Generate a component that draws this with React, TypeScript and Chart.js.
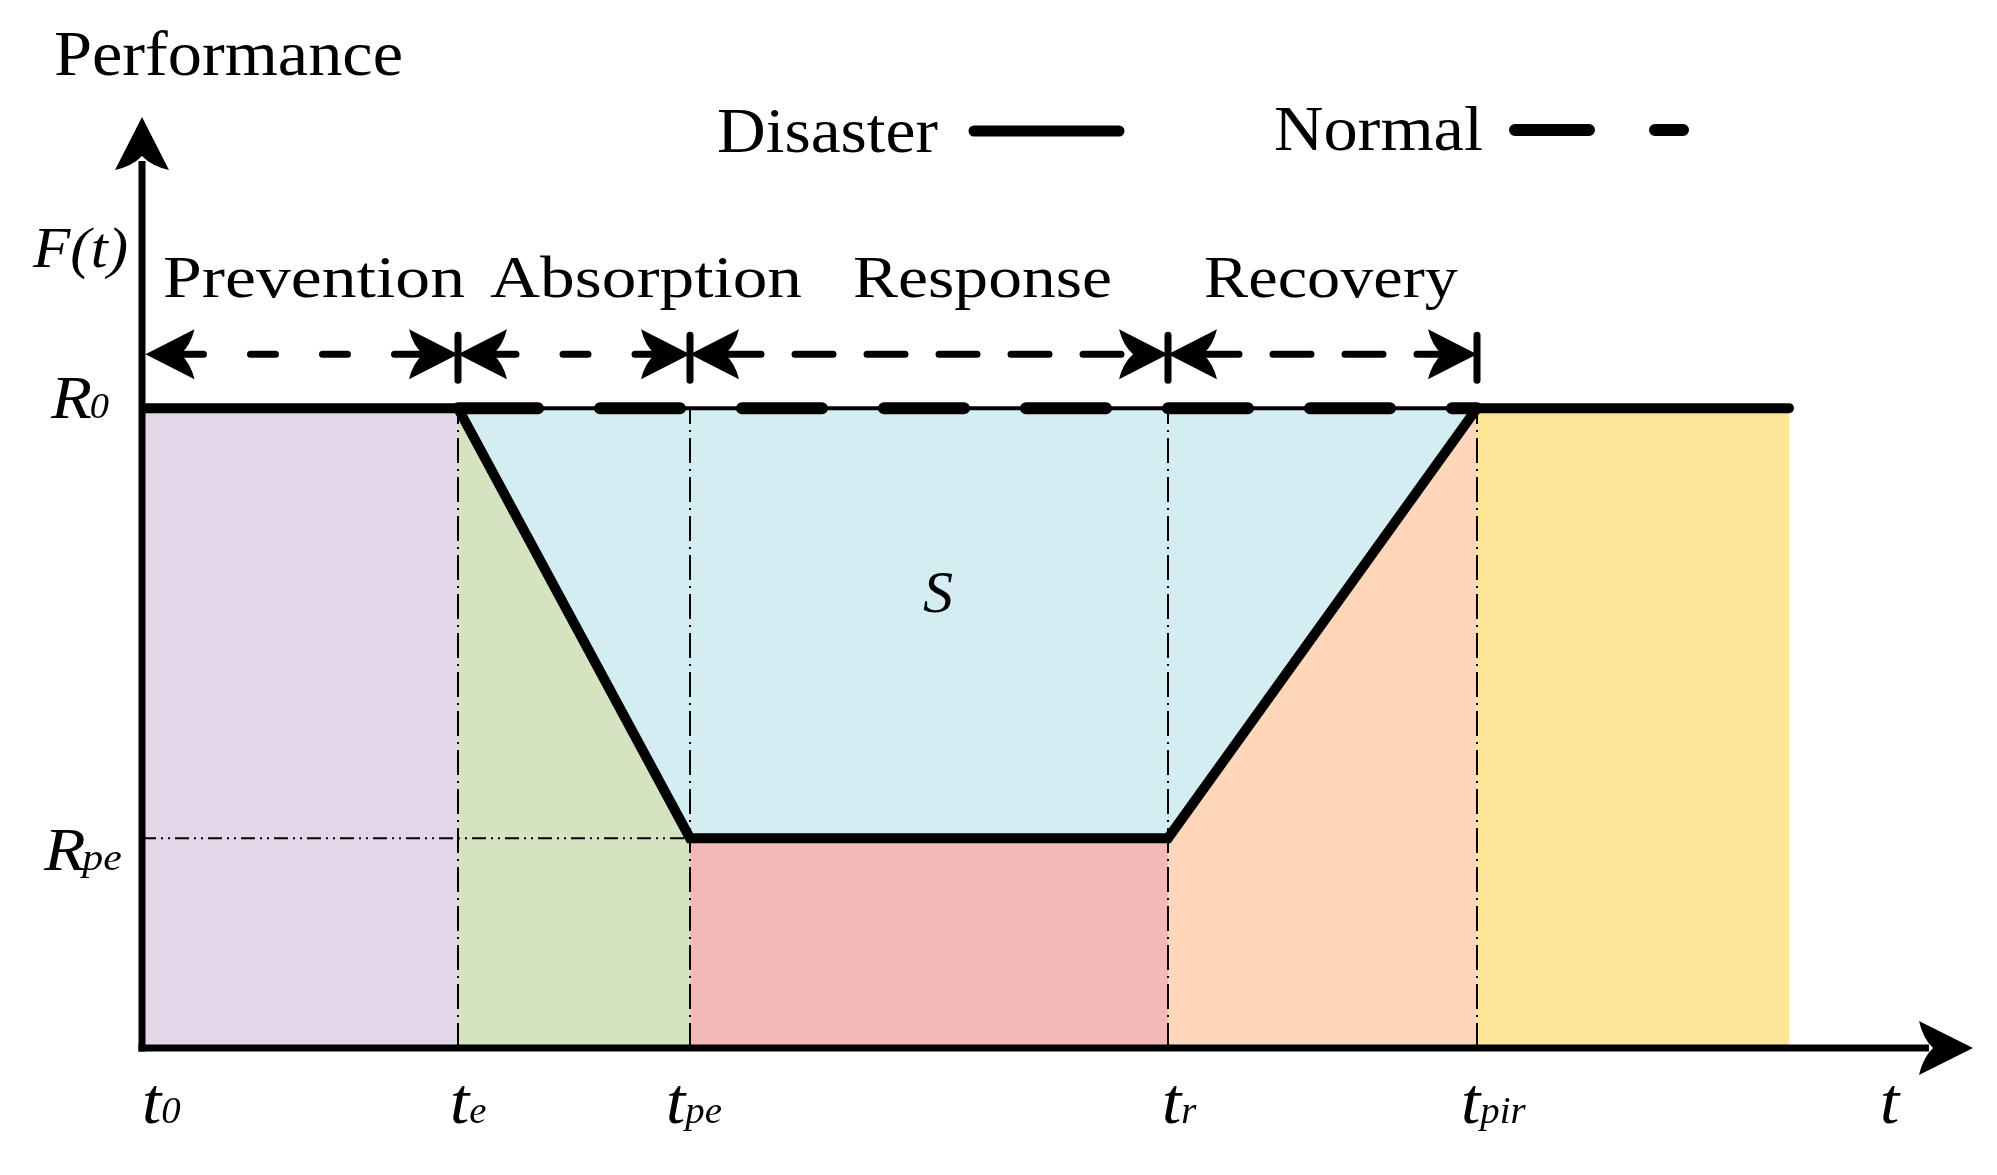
import { useEffect, useRef } from "react";
import { Chart, registerables } from "chart.js";

Chart.register(...registerables);

// ---- data ----
const timeKeys = ["t0", "te", "tpe", "tr", "tpir"];
const timeSubs = ["0", "e", "pe", "r", "pir"];
const timeValues = [0, 3.16, 5.48, 10.26, 13.35]; // t0, te, tpe, tr, tpir
const timeEnd = 16.47;
const timeAxisMax = 18.31;
const perfLevels = [1.0, 0.328]; // R0, Rpe
const perfAxisMax = 1.455;
const phaseNames = ["Prevention", "Absorption", "Response", "Recovery"];
const legendLabels = ["Disaster", "Normal"];
const regionColors = ["#E2D6E8", "#D5E3C0", "#F3B9B7", "#FED7BA", "#FEE597"];
const surfaceColor = "#D4EDF3";

const SERIF = '"Liberation Serif", "Times New Roman", serif';

type Pt = { x: number; y: number };

function fitText(ctx: CanvasRenderingContext2D, text: string, font: string, left: number, right: number, baseline: number) {
  ctx.save();
  ctx.font = font;
  const w = ctx.measureText(text).width;
  ctx.translate(left, baseline);
  ctx.scale((right - left) / w, 1);
  ctx.textAlign = "left";
  ctx.textBaseline = "alphabetic";
  ctx.fillText(text, 0, 0);
  ctx.restore();
}

function subLabel(
  ctx: CanvasRenderingContext2D,
  main: string,
  sub: string,
  left: number,
  baseline: number,
  mainFont: string,
  subFont: string,
  gap: number,
  sx: number
) {
  ctx.save();
  ctx.textAlign = "left";
  ctx.textBaseline = "alphabetic";
  ctx.translate(left, baseline);
  ctx.scale(sx, 1);
  ctx.font = mainFont;
  ctx.fillText(main, 0, 0);
  const w = ctx.measureText(main).width;
  if (sub) {
    ctx.font = subFont;
    ctx.fillText(sub, w + gap, 0);
  }
  ctx.restore();
}

function arrowHead(ctx: CanvasRenderingContext2D, tx: number, ty: number, dx: number, dy: number, L: number, H: number) {
  const px = -dy, py = dx;
  const c1x = tx - L * dx + H * px, c1y = ty - L * dy + H * py;
  const c2x = tx - L * dx - H * px, c2y = ty - L * dy - H * py;
  const bx = tx - (L - 14) * dx, by = ty - (L - 14) * dy;
  const k1x = tx - (L - 4) * dx + 0.35 * H * px, k1y = ty - (L - 4) * dy + 0.35 * H * py;
  const k2x = tx - (L - 4) * dx - 0.35 * H * px, k2y = ty - (L - 4) * dy - 0.35 * H * py;
  ctx.beginPath();
  ctx.moveTo(tx, ty);
  ctx.lineTo(c1x, c1y);
  ctx.quadraticCurveTo(k1x, k1y, bx, by);
  ctx.quadraticCurveTo(k2x, k2y, c2x, c2y);
  ctx.closePath();
  ctx.fill();
}

const diagramPlugin = {
  id: "diagram",
  afterDatasetsDraw(chart: any) {
    const ctx: CanvasRenderingContext2D = chart.ctx;
    const xs = chart.scales.x, ys = chart.scales.y;
    const X = (v: number) => xs.getPixelForValue(v);
    const Y = (v: number) => ys.getPixelForValue(v);
    const x0 = X(0), y0 = Y(0);
    ctx.save();
    ctx.fillStyle = "#000";
    ctx.strokeStyle = "#000";

    // axes
    ctx.lineWidth = 7;
    ctx.lineCap = "butt";
    ctx.beginPath();
    ctx.moveTo(x0, y0 + 3.5);
    ctx.lineTo(x0, Y(perfAxisMax) + 44);
    ctx.stroke();
    arrowHead(ctx, x0, Y(perfAxisMax), 0, -1, 53, 27);
    ctx.beginPath();
    ctx.moveTo(x0 - 3.5, y0);
    ctx.lineTo(X(timeAxisMax) - 44, y0);
    ctx.stroke();
    arrowHead(ctx, X(timeAxisMax), y0, 1, 0, 54, 27);

    // phase dimension arrows
    const rowY = Y(perfLevels[0]) - 54;
    const bx = timeValues.map((t) => X(t));
    bx[0] = x0 + 3.5;
    const L = 49, H = 25;
    for (let i = 0; i < 4; i++) {
      const a = bx[i], b = bx[i + 1];
      ctx.lineWidth = 7;
      ctx.lineCap = "round";
      ctx.setLineDash(i < 2 ? [25, 47] : [38, 34]);
      ctx.beginPath();
      ctx.moveTo(a + L - 16, rowY);
      ctx.lineTo(b - L + 16, rowY);
      ctx.stroke();
      ctx.setLineDash([]);
      arrowHead(ctx, a, rowY, -1, 0, L, H);
      arrowHead(ctx, b, rowY, 1, 0, L, H);
    }
    ctx.lineWidth = 7;
    ctx.lineCap = "round";
    for (let i = 1; i < bx.length; i++) {
      ctx.beginPath();
      ctx.moveTo(bx[i], rowY - 19);
      ctx.lineTo(bx[i], rowY + 26);
      ctx.stroke();
    }

    // legend samples
    ctx.lineWidth = 11;
    ctx.beginPath();
    ctx.moveTo(974, 131);
    ctx.lineTo(1119, 131);
    ctx.stroke();
    ctx.lineWidth = 12;
    ctx.beginPath();
    ctx.moveTo(1515, 130);
    ctx.lineTo(1589, 130);
    ctx.moveTo(1655, 130);
    ctx.lineTo(1683, 130);
    ctx.stroke();

    // texts
    fitText(ctx, "Performance", `63px ${SERIF}`, 54, 403, 75);
    fitText(ctx, legendLabels[0], `63px ${SERIF}`, 717, 938, 152);
    fitText(ctx, legendLabels[1], `63px ${SERIF}`, 1274, 1483, 150);
    fitText(ctx, "F(t)", `italic 56px ${SERIF}`, 33, 128, 267);
    const phaseSpans = [[163, 465], [490, 802], [853, 1112], [1204, 1458]];
    phaseNames.forEach((p, i) => fitText(ctx, p, `60px ${SERIF}`, phaseSpans[i][0], phaseSpans[i][1], 297));
    fitText(ctx, "S", `italic 60px ${SERIF}`, 923, 953, 612);

    // y labels
    subLabel(ctx, "R", "0", 51, Y(perfLevels[0]) + 10, `italic 61px ${SERIF}`, `italic 35px ${SERIF}`, -2, 1.1);
    subLabel(ctx, "R", "pe", 44, Y(perfLevels[1]) + 32, `italic 62px ${SERIF}`, `italic 38px ${SERIF}`, -3, 1.1);

    // t labels
    const tOffsets = [0, -8, -24, -6, -16];
    const tBase = y0 + 75;
    timeKeys.forEach((k, i) => {
      subLabel(ctx, "t", timeSubs[i], X(timeValues[i]) + tOffsets[i], tBase, `italic 66px ${SERIF}`, `italic 37px ${SERIF}`, 0, 1.05);
    });
    subLabel(ctx, "t", "", X(timeAxisMax) - 93, tBase, `italic 66px ${SERIF}`, `italic 37px ${SERIF}`, 0, 1.05);

    ctx.restore();
  },
};

export default function App() {
  const ref = useRef<HTMLCanvasElement | null>(null);
  useEffect(() => {
    document.body.style.margin = "0";
    const canvas = ref.current;
    if (!canvas) return;
    const [t0, te, tpe, tr, tpir] = timeValues;
    const [R0, Rpe] = perfLevels;
    const fillSet = (data: Pt[], color: string, order: number) => ({
      data,
      showLine: true,
      fill: "origin",
      backgroundColor: color,
      borderWidth: 0,
      borderColor: "rgba(0,0,0,0)",
      pointRadius: 0,
      order,
    });
    const lineSet = (data: Pt[], width: number, dash: number[], cap: string, order: number) => ({
      data,
      showLine: true,
      fill: false,
      borderColor: "#000",
      borderWidth: width,
      borderDash: dash,
      borderCapStyle: cap,
      borderJoinStyle: "miter",
      pointRadius: 0,
      tension: 0,
      order,
    });
    const datasets: any[] = [
      fillSet([{ x: te, y: R0 }, { x: tpir, y: R0 }], surfaceColor, 100),
      fillSet([{ x: t0, y: R0 }, { x: te, y: R0 }], regionColors[0], 90),
      fillSet([{ x: te, y: R0 }, { x: tpe, y: Rpe }], regionColors[1], 90),
      fillSet([{ x: tpe, y: Rpe }, { x: tr, y: Rpe }], regionColors[2], 90),
      fillSet([{ x: tr, y: Rpe }, { x: tpir, y: R0 }], regionColors[3], 90),
      fillSet([{ x: tpir, y: R0 }, { x: timeEnd, y: R0 }], regionColors[4], 90),
      ...[te, tpe, tr, tpir].map((t) => lineSet([{ x: t, y: 0 }, { x: t, y: R0 }], 2, [25, 6, 2, 6], "butt", 50)),
      lineSet([{ x: t0, y: Rpe }, { x: tpe, y: Rpe }], 2, [14, 5, 2, 5, 2, 5], "butt", 50),
      lineSet([{ x: te, y: R0 }, { x: tpir, y: R0 }], 4, [], "butt", 40),
      lineSet([{ x: te, y: R0 }, { x: tpir, y: R0 }], 12, [80, 62], "round", 30),
      lineSet(
        [
          { x: t0, y: R0 },
          { x: te, y: R0 },
          { x: tpe, y: Rpe },
          { x: tr, y: Rpe },
          { x: tpir, y: R0 },
          { x: timeEnd, y: R0 },
        ],
        10,
        [],
        "round",
        20
      ),
    ];
    const chart = new Chart(canvas, {
      type: "scatter",
      data: { datasets },
      options: {
        animation: false,
        responsive: false,
        devicePixelRatio: 1,
        layout: { padding: { left: 142, right: 24, top: 117, bottom: 127 } },
        scales: {
          x: { type: "linear", min: 0, max: timeAxisMax, display: false },
          y: { type: "linear", min: 0, max: perfAxisMax, display: false },
        },
        plugins: { legend: { display: false }, tooltip: { enabled: false } },
        events: [],
      },
      plugins: [diagramPlugin],
    } as any);
    return () => chart.destroy();
  }, []);
  return (
    <canvas
      ref={ref}
      width={1997}
      height={1175}
      style={{ display: "block", width: "1997px", height: "1175px", background: "#fff" }}
    />
  );
}
